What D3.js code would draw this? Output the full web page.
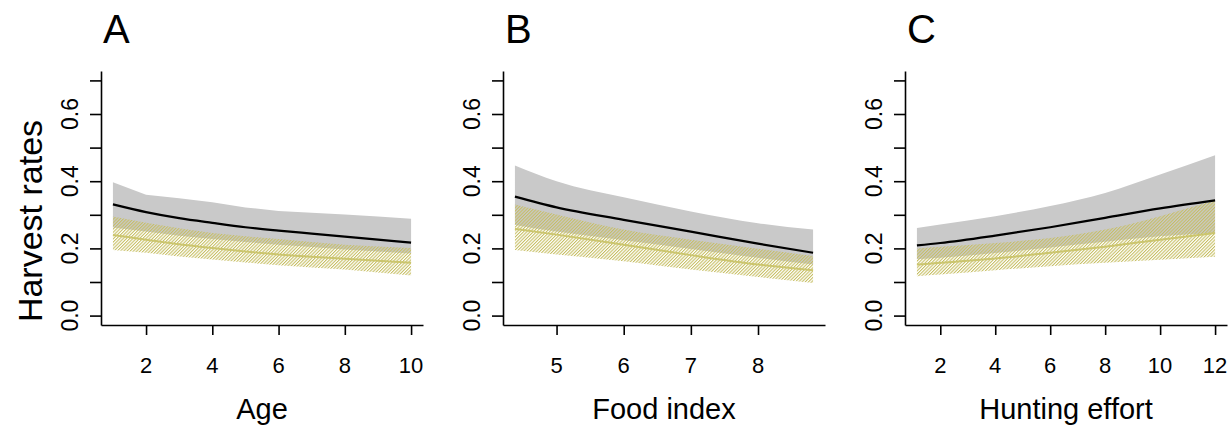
<!DOCTYPE html>
<html>
<head>
<meta charset="utf-8">
<script src="https://cdn.jsdelivr.net/npm/d3@7"></script>
<style>
  body { margin: 0; background: #fff; }
  text { font-family: "Liberation Sans", Arial, sans-serif; fill: #000; }
</style>
</head>
<body>
<div id="chart"></div>
<script>
// ---- data ----
// panel A : age
const ageX       = [1, 2, 3, 4, 5, 6, 7, 8, 9, 10];
const ageMean    = [0.331, 0.308, 0.290, 0.276, 0.263, 0.253, 0.244, 0.235, 0.226, 0.217];
const ageHi      = [0.397, 0.360, 0.349, 0.337, 0.322, 0.311, 0.306, 0.301, 0.295, 0.288];
const ageLo      = [0.262, 0.250, 0.238, 0.228, 0.219, 0.211, 0.204, 0.197, 0.191, 0.185];
const ageOMean   = [0.240, 0.226, 0.212, 0.201, 0.191, 0.182, 0.175, 0.169, 0.163, 0.157];
const ageOHi     = [0.295, 0.276, 0.260, 0.246, 0.236, 0.228, 0.219, 0.211, 0.206, 0.201];
const ageOLo     = [0.195, 0.187, 0.176, 0.167, 0.158, 0.150, 0.143, 0.137, 0.128, 0.119];

// panel B : food index
const foodX      = [4.38, 5, 6, 7, 8, 8.82];
const foodMean   = [0.354, 0.322, 0.285, 0.250, 0.214, 0.187];
const foodHi     = [0.447, 0.400, 0.352, 0.310, 0.275, 0.256];
const foodLo     = [0.270, 0.250, 0.224, 0.198, 0.172, 0.152];
const foodOMean  = [0.258, 0.241, 0.211, 0.180, 0.152, 0.135];
const foodOHi    = [0.331, 0.301, 0.256, 0.226, 0.199, 0.177];
const foodOLo    = [0.195, 0.182, 0.162, 0.137, 0.115, 0.097];

// panel C : hunting effort
const effX       = [1.15, 2, 4, 6, 8, 10, 12];
const effMean    = [0.209, 0.216, 0.238, 0.263, 0.291, 0.319, 0.343];
const effHi      = [0.261, 0.271, 0.296, 0.326, 0.365, 0.420, 0.477];
const effLo      = [0.168, 0.172, 0.186, 0.203, 0.220, 0.236, 0.245];
const effOMean   = [0.152, 0.157, 0.170, 0.187, 0.205, 0.226, 0.246];
const effOHi     = [0.200, 0.205, 0.216, 0.231, 0.256, 0.296, 0.343];
const effOLo     = [0.117, 0.122, 0.135, 0.147, 0.157, 0.166, 0.175];

const yTicks = [0, 0.1, 0.2, 0.3, 0.4, 0.5, 0.6, 0.7];
const yLabelled = [0, 0.2, 0.4, 0.6];

const panels = [
  { letter: "A", title: "Age",            x: ageX,  m: ageMean,  hi: ageHi,  lo: ageLo,
    om: ageOMean,  ohi: ageOHi,  olo: ageOLo,  ticks: [2, 4, 6, 8, 10],        curve: d3.curveLinear },
  { letter: "B", title: "Food index",     x: foodX, m: foodMean, hi: foodHi, lo: foodLo,
    om: foodOMean, ohi: foodOHi, olo: foodOLo, ticks: [5, 6, 7, 8],            curve: d3.curveMonotoneX },
  { letter: "C", title: "Hunting effort", x: effX,  m: effMean,  hi: effHi,  lo: effLo,
    om: effOMean,  ohi: effOHi,  olo: effOLo,  ticks: [2, 4, 6, 8, 10, 12],   curve: d3.curveMonotoneX }
];

// ---- layout ----
const width = 1229, height = 426;
const plotTop = 71, plotBottom = 325, plotW = 322, step = 402, firstLeft = 101;
const grey = "#c9c9c9", olive = "#cbc56e", hatch = "#c6be62";

const svg = d3.select("#chart").append("svg")
  .attr("width", width).attr("height", height);

// diagonal hatching for the olive band
const defs = svg.append("defs");
defs.append("pattern")
  .attr("id", "hatch")
  .attr("patternUnits", "userSpaceOnUse")
  .attr("width", 2.3).attr("height", 4)
  .attr("patternTransform", "rotate(45)")
  .append("rect")
  .attr("x", 0).attr("y", 0).attr("width", 1.05).attr("height", 4)
  .attr("fill", hatch);

const y = d3.scaleLinear().domain([-0.028, 0.728]).range([plotBottom, plotTop]);

panels.forEach((p, i) => {
  const left = firstLeft + i * step;
  const xmin = d3.min(p.x), xmax = d3.max(p.x), pad = (xmax - xmin) * 0.04;
  const x = d3.scaleLinear().domain([xmin - pad, xmax + pad]).range([left, left + plotW]);
  const rows = p.x.map((v, k) => ({ x: v, m: p.m[k], hi: p.hi[k], lo: p.lo[k],
                                    om: p.om[k], ohi: p.ohi[k], olo: p.olo[k] }));
  const g = svg.append("g");

  // grey band
  g.append("path").datum(rows)
    .attr("fill", grey)
    .attr("d", d3.area().curve(p.curve).x(d => x(d.x)).y0(d => y(d.lo)).y1(d => y(d.hi)));

  // olive hatched band
  g.append("path").datum(rows)
    .attr("fill", "url(#hatch)")
    .attr("d", d3.area().curve(p.curve).x(d => x(d.x)).y0(d => y(d.olo)).y1(d => y(d.ohi)));

  // olive mean
  g.append("path").datum(rows)
    .attr("fill", "none").attr("stroke", olive).attr("stroke-width", 2)
    .attr("d", d3.line().curve(d3.curveMonotoneX).x(d => x(d.x)).y(d => y(d.om)));

  // black mean
  g.append("path").datum(rows)
    .attr("fill", "none").attr("stroke", "#000").attr("stroke-width", 2.2)
    .attr("d", d3.line().curve(d3.curveMonotoneX).x(d => x(d.x)).y(d => y(d.m)));

  // axes
  const ya = g.append("g").attr("transform", `translate(${left},0)`)
    .call(d3.axisLeft(y).tickValues(yTicks).tickSize(11).tickSizeOuter(0).tickFormat(""));
  const xa = g.append("g").attr("transform", `translate(0,${plotBottom})`)
    .call(d3.axisBottom(x).tickValues(p.ticks).tickSize(10).tickSizeOuter(0).tickFormat(""));
  [ya, xa].forEach(a => {
    a.selectAll("path, line").attr("stroke", "#000").attr("stroke-width", 1.6);
  });

  // y tick labels, parallel to the axis
  g.selectAll(".ylab").data(yLabelled).join("text")
    .attr("transform", d => `translate(${left - 23},${y(d)}) rotate(-90)`)
    .attr("text-anchor", "middle")
    .attr("font-size", 23)
    .text(d => d.toFixed(1));

  // x tick labels
  g.selectAll(".xlab").data(p.ticks).join("text")
    .attr("x", d => x(d)).attr("y", 373)
    .attr("text-anchor", "middle")
    .attr("font-size", 22)
    .text(d => d);

  // x title
  g.append("text")
    .attr("x", left + plotW / 2).attr("y", 419)
    .attr("text-anchor", "middle")
    .attr("font-size", 29)
    .text(p.title);

  // panel letter
  g.append("text")
    .attr("x", left + 2).attr("y", 43)
    .attr("font-size", 40)
    .text(p.letter);
});

// shared y title
svg.append("text")
  .attr("transform", "translate(42,221) rotate(-90)")
  .attr("text-anchor", "middle")
  .attr("font-size", 34)
  .text("Harvest rates");
</script>
</body>
</html>
